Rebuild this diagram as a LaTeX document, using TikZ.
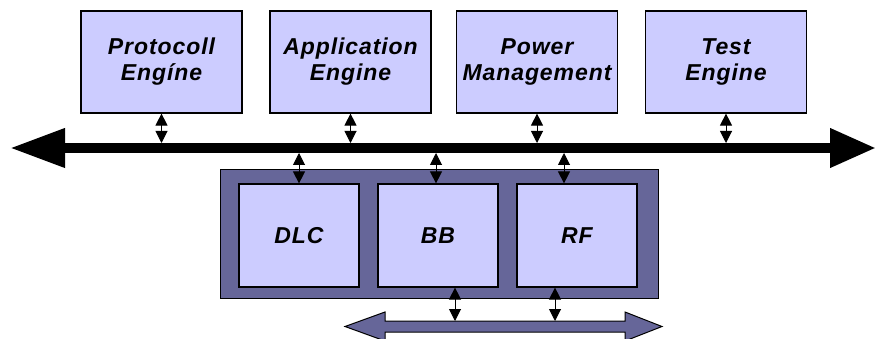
\documentclass[tikz,border=0pt]{standalone}
\usepackage{xcolor}
\usepackage{fontspec}
\setmainfont{Liberation Sans}
\usepackage{tikz}
\usetikzlibrary{positioning, arrows.meta, calc}
\definecolor{blocklight}{HTML}{CCCCFF}
\definecolor{blockdark}{HTML}{666699}

\tikzset{
  label font/.style={font=\fontsize{23}{26}\selectfont\bfseries\itshape\addfontfeature{LetterSpace=4}},
  topbox/.style={draw=black, line width=1.2pt, fill=blocklight, minimum width=161pt,
                 minimum height=102pt, align=center, inner sep=0pt, label font},
  subbox/.style={draw=black, line width=1.2pt, fill=blocklight, minimum width=120pt,
                 minimum height=103pt, inner sep=0pt, label font},
  link/.style={line width=1pt, {Triangle[width=12pt,length=12pt]}-{Triangle[width=12pt,length=12pt]}}
}

\begin{document}
\begin{tikzpicture}[x=1pt, y=-1pt]
    \useasboundingbox (0,0) rectangle (877,339);

    % engines on the main bus
    \node[topbox] (prot) at (161.5,62) {Protocoll\\Engíne};
    \node[topbox] (app)  at (350.5,62) {Application\\Engine};
    \node[topbox] (pwr)  at (537,62)   {Power\\Management};
    \node[topbox] (test) at (726,62)   {Test\\Engine};

    % main bus
    \coordinate (busW) at (10,148);
    \coordinate (busE) at (876,148);
    \draw[line width=10pt, {Triangle[width=37pt,length=55pt]}-{Triangle[width=37pt,length=46pt]}]
      (busW) -- (busE);

    \foreach \n in {prot, app, pwr, test}
      \draw[link] (\n.south) -- ($(\n.south |- busW)+(0,-5)$);

    % radio subsystem
    \node[draw=black, line width=0.8pt, fill=blockdark, minimum width=438pt,
          minimum height=129pt] (radio) at (439,233.5) {};
    \node[subbox] (dlc) at (299,235.5) {DLC};
    \node[subbox] (bb)  at (438,235.5) {BB};
    \node[subbox] (rf)  at (577,235.5) {RF};

    \coordinate (tapdlc) at (299,153);
    \coordinate (tapbb)  at (436,153);
    \coordinate (taprf)  at (564,153);
    \draw[link] (tapdlc) -- (tapdlc |- dlc.north);
    \draw[link] (tapbb)  -- (tapbb |- bb.north);
    \draw[link] (taprf)  -- (taprf |- rf.north);

    % lower bus
    \draw[line width=1pt, fill=blockdark]
      (345,326.5) -- (385,312) -- (385,321) -- (625,321) -- (625,312) -- (662,326.5)
      -- (625,341) -- (625,332) -- (385,332) -- (385,341) -- cycle;
    \coordinate (lowbb) at (455,321);
    \coordinate (lowrf) at (555,321);
    \draw[link] (lowbb |- bb.south) -- (lowbb);
    \draw[link] (lowrf |- rf.south) -- (lowrf);
  \end{tikzpicture}
\end{document}
